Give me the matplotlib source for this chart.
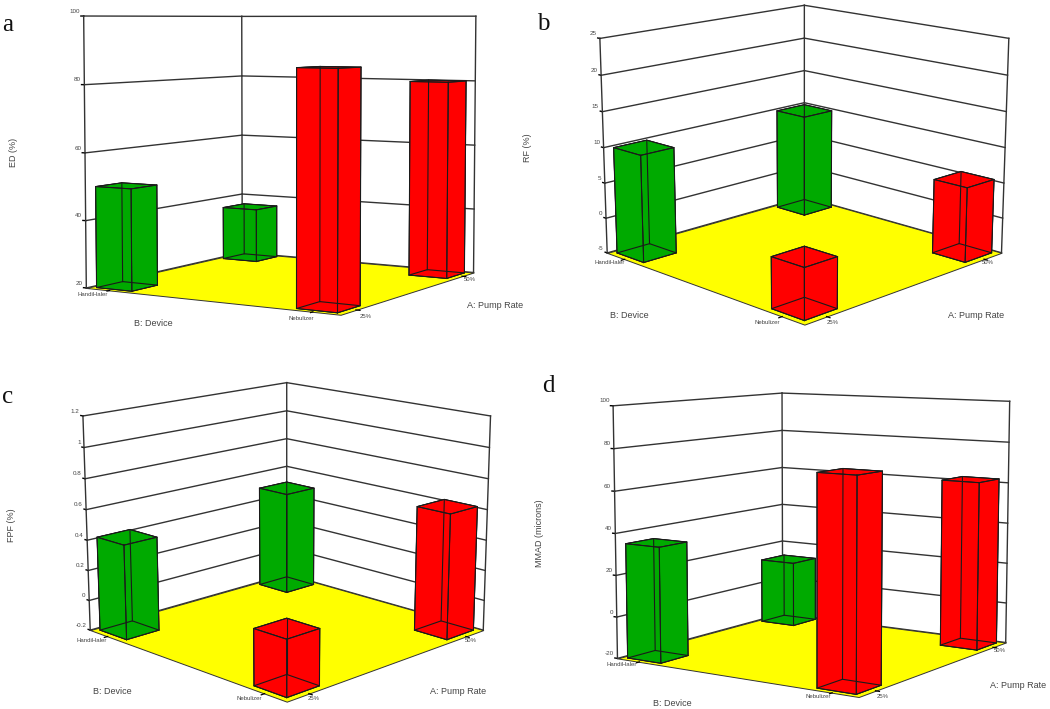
import matplotlib
matplotlib.use("Agg")
import matplotlib.pyplot as plt
from mpl_toolkits.mplot3d import proj3d
from mpl_toolkits.mplot3d.art3d import Poly3DCollection

W, H, S = 1050, 709, 620
plt.rcParams["font.family"] = ["Liberation Sans", "DejaVu Sans"]

# Panel data
letters = ["a", "b", "c", "d"]
y_labels = ["ED (%)", "RF (%)", "FPF (%)", "MMAD (microns)"]
z_ticks = [[20, 40, 60, 80, 100], [-5, 0, 5, 10, 15, 20, 25],
           [-0.2, 0, 0.2, 0.4, 0.6, 0.8, 1, 1.2], [-20, 0, 20, 40, 60, 80, 100]]
handi_25 = [50, 10, 0.42, 35]
handi_50 = [37, 10, 0.5, 13]
neb_25 = [86, 1.8, 0.15, 75]
neb_50 = [80, 5.5, 0.62, 62]

# elev, azim, focal, y ratio, z ratio, zoom, centre x, centre y (found by fitting the corners)
views = [[4.529, -149.1, 0.49, 0.999, 0.932, 0.753, 277.268, 157.276],
         [14.592, -135.037, 0.456, 0.999, 0.78, 0.718, 795.998, 155.959],
         [14.655, -135.003, 0.459, 1.0, 0.782, 0.716, 278.352, 533.371],
         [7.834, -145.924, 0.477, 1.0, 0.882, 0.737, 807.715, 536.572]]

# Text positions in pixels of the image
letter_xy = [(2, 31), (537, 30), (2, 403), (542, 392)]
ylabel_xy = [(13, 152), (528, 148), (11, 525), (540, 533)]
device_xy = [(153, 324), (629, 315), (112, 692), (672, 703)]
pump_xy = [(495, 306), (976, 315), (458, 692), (1018, 686)]
handi_xy = [(93, 295), (610, 262), (92, 640), (622, 665)]
neb_xy = [(301, 318), (767, 322), (249, 699), (818, 697)]
low_xy = [(366, 317), (833, 322), (314, 699), (883, 697)]
high_xy = [(470, 279), (988, 262), (471, 640), (1000, 650)]

LINE = "#333333"
TEXT = "#444444"
BAR_W = 0.15
LOW, HIGH = 0.10, 0.90

fig = plt.figure(figsize=(W/100, H/100), dpi=100)


def px_text(x, y, s, size, **kw):
    fig.text(x/W, 1-y/H, s, fontsize=size, color=kw.pop("color", TEXT),
             ha=kw.pop("ha", "center"), va=kw.pop("va", "center"), **kw)


def bar(ax, x, y, top, z0, color, zo):
    x0, y0 = x-BAR_W/2, y-BAR_W/2
    c = ax.bar3d(x0, y0, z0, BAR_W, BAR_W, top-z0, color=color, edgecolor="#222222",
                 linewidth=0.6, shade=False)
    c.set_zorder(zo)
    xx = [x0, x0+BAR_W, x0+BAR_W, x0, x0]
    yy = [y0, y0, y0+BAR_W, y0+BAR_W, y0]
    ax.plot(xx, yy, [z0]*5, color="#1a1a1a", lw=0.8, zorder=zo+0.5)
    ax.plot(xx, yy, [top]*5, color="#1a1a1a", lw=0.8, zorder=zo+0.5)
    for a, b in zip(xx[:4], yy[:4]):
        ax.plot([a, a], [b, b], [z0, top], color="#1a1a1a", lw=0.8, zorder=zo+0.5)


for i in range(4):
    elev, azim, focal, yr, zr, zoom, cx, cy = views[i]
    ax = fig.add_axes([(cx-S/2)/W, 1-(cy+S/2)/H, S/W, S/H], projection="3d", computed_zorder=False)
    ax.set_axis_off()
    ax.patch.set_visible(False)
    ax.view_init(elev=elev, azim=azim)
    ax.set_proj_type("persp", focal_length=focal)
    ax.set_box_aspect((1, yr, zr), zoom=zoom)
    zt = z_ticks[i]
    zlim = (zt[0], zt[-1])

    # Walls
    for z in zt:
        ax.plot([0, 1], [1, 1], [z, z], color=LINE, lw=1.0, zorder=1)
        ax.plot([1, 1], [1, 0], [z, z], color=LINE, lw=1.0, zorder=1)
        ax.plot([0, 0], [1, 1.012], [z, z], color="black", lw=1.0, zorder=1)
    for a, b in [(0, 1), (1, 1), (1, 0)]:
        ax.plot([a, a], [b, b], zlim, color=LINE, lw=1.0, zorder=1)

    # Floor and its ticks
    floor = Poly3DCollection([[(0, 0, zlim[0]), (1, 0, zlim[0]), (1, 1, zlim[0]), (0, 1, zlim[0])]],
                             facecolor="#ffff00", edgecolor=LINE, linewidth=0.7)
    floor.set_zorder(2)
    ax.add_collection3d(floor)
    for p in (LOW, HIGH):
        ax.plot([0, -0.015], [p, p], [zlim[0]]*2, color="black", lw=0.9, zorder=2.5)
        ax.plot([p, p], [0, -0.015], [zlim[0]]*2, color="black", lw=0.9, zorder=2.5)

    # Bars, back to front
    bar(ax, HIGH, HIGH, handi_50[i], zlim[0], "#00aa00", 3)
    bar(ax, LOW, HIGH, handi_25[i], zlim[0], "#00aa00", 4)
    bar(ax, HIGH, LOW, neb_50[i], zlim[0], "#ff0000", 5)
    bar(ax, LOW, LOW, neb_25[i], zlim[0], "#ff0000", 6)
    ax.set_xlim(0, 1)
    ax.set_ylim(0, 1)
    ax.set_zlim(*zlim)

    # Value tick labels next to the left corner
    M = ax.get_proj()
    for z in zt:
        xs, ys, _ = proj3d.proj_transform(0, 1, z, M)
        ax.annotate(f"{z:g}", xy=(xs, ys), xytext=(-2.5, 3.5), textcoords="offset points",
                    fontsize=4.5, color=TEXT, ha="right", va="center", annotation_clip=False)

    px_text(*letter_xy[i], letters[i], 18, family="Liberation Serif", color="#111111", ha="left", va="baseline")
    px_text(*ylabel_xy[i], y_labels[i], 6.5, rotation=90)
    px_text(*device_xy[i], "B: Device", 6.5)
    px_text(*pump_xy[i], "A: Pump Rate", 6.5)
    px_text(*handi_xy[i], "HandiHaler", 4.3)
    px_text(*neb_xy[i], "Nebulizer", 4.3)
    px_text(*low_xy[i], "25%", 4.3)
    px_text(*high_xy[i], "50%", 4.3)

fig.savefig("out.png", dpi=100)
